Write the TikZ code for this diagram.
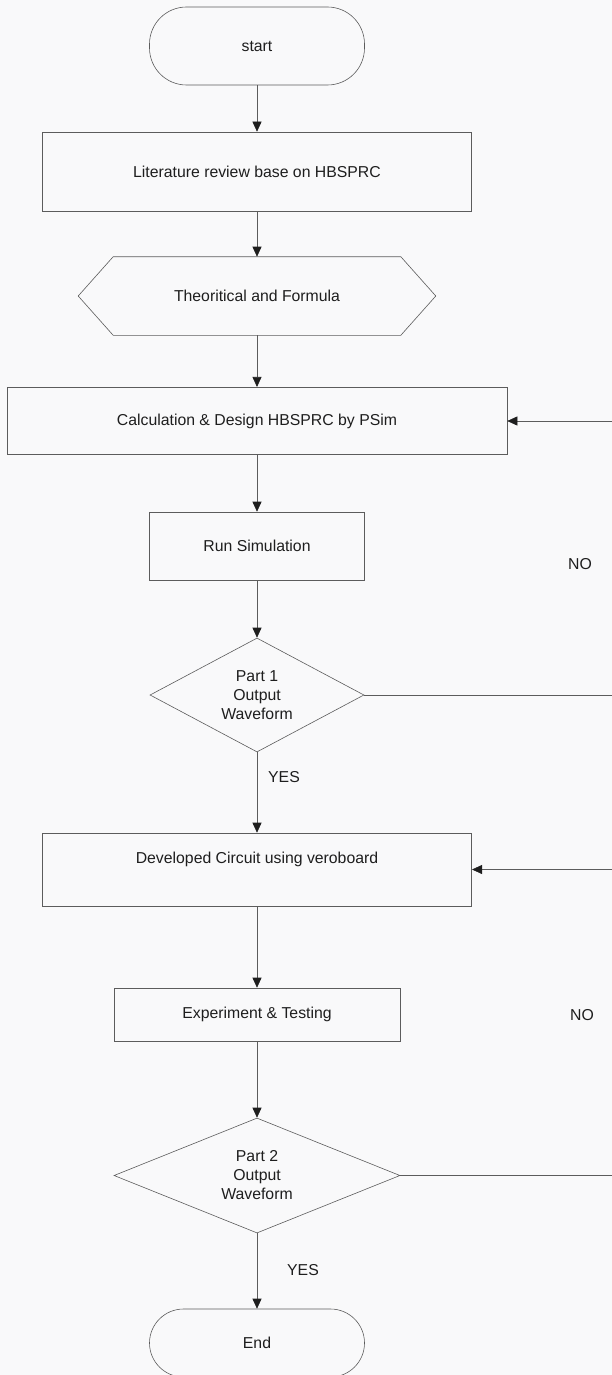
\documentclass[tikz,border=0pt]{standalone}
\usepackage{fontspec}
\setmainfont{Liberation Sans}
\usetikzlibrary{shapes.geometric,arrows.meta}
\definecolor{ln}{HTML}{5C5C5C}
\definecolor{tx}{HTML}{1E1E1E}
\definecolor{bg}{HTML}{F9F9FA}
\begin{document}
\begin{tikzpicture}[x=1pt,y=-1pt,
  base/.style={draw=ln, line width=0.6pt, text=tx, font=\fontsize{15.8}{19}\selectfont, align=center, inner sep=0pt},
  terminal/.style={base, rectangle, rounded corners=37pt, minimum width=215pt, minimum height=78pt},
  proc/.style={base, rectangle},
  decision/.style={base, diamond, shape aspect=2},
  arr/.style={draw=ln, line width=0.6pt, -{Triangle[width=9pt,length=10pt,color=tx]}},
  plain/.style={draw=ln, line width=0.6pt},
  lbl/.style={text=tx, font=\fontsize{15.8}{19}\selectfont, inner sep=0pt}]
\fill[bg] (0,0) rectangle (612,1375);
\useasboundingbox (0,0) rectangle (612,1375);

\node[terminal] (start) at (257,46) {start};
\node[proc, minimum width=429pt, minimum height=79pt] (lit) at (257,171.5) {Literature review base on HBSPRC};
\node[base, draw=none, minimum width=357pt, minimum height=78pt] (hex) at (257,296) {Theoritical and Formula};
\draw[plain] (hex.west) -- ([xshift=35pt]hex.north west) -- ([xshift=-35pt]hex.north east) -- (hex.east)
  -- ([xshift=-35pt]hex.south east) -- ([xshift=35pt]hex.south west) -- cycle;
\node[proc, minimum width=500pt, minimum height=67.5pt] (calc) at (257,421) {Calculation \& Design HBSPRC by PSim};
\node[proc, minimum width=215pt, minimum height=68pt] (run) at (257,546) {Run Simulation};
\node[decision, minimum width=214pt, minimum height=114pt] (d1) at (257,695) {Part 1\\Output\\Waveform};
\node[proc, minimum width=429.5pt, minimum height=73pt, text height=11pt, text depth=23pt] (dev) at (257,869.5) {Developed Circuit using veroboard};
\node[proc, minimum width=286pt, minimum height=53pt] (exp) at (257,1014.5) {Experiment \& Testing};
\node[decision, minimum width=286pt, minimum height=115pt] (d2) at (257,1175.5) {Part 2\\Output\\Waveform};
\node[terminal, minimum height=68pt, rounded corners=34pt] (end) at (257,1343) {End};

\node[lbl] (no1) at (580,564) {NO};
\node[lbl] (yes1) at (284,777) {YES};
\node[lbl] (no2) at (582,1015) {NO};
\node[lbl] (yes2) at (303,1270) {YES};

\coordinate (r1in) at (612,421);
\coordinate (r1out) at (612,695);
\coordinate (r2in) at (612,869.5);
\coordinate (r2out) at (612,1175.5);

\draw[arr] (start) -- (lit);
\draw[arr] (lit) -- (hex);
\draw[arr] (hex) -- (calc);
\draw[arr] (calc) -- (run);
\draw[arr] (run) -- (d1);
\draw[arr] (d1) -- (dev);
\draw[arr] (dev) -- (exp);
\draw[arr] (exp) -- (d2);
\draw[arr] (d2) -- (end);
\draw[plain] (d1.east) -- (r1out);
\draw[arr] (r1in) -- (calc.east);
\draw[plain] (d2.east) -- (r2out);
\draw[arr] (r2in) -- (dev.east);
\end{tikzpicture}
\end{document}
